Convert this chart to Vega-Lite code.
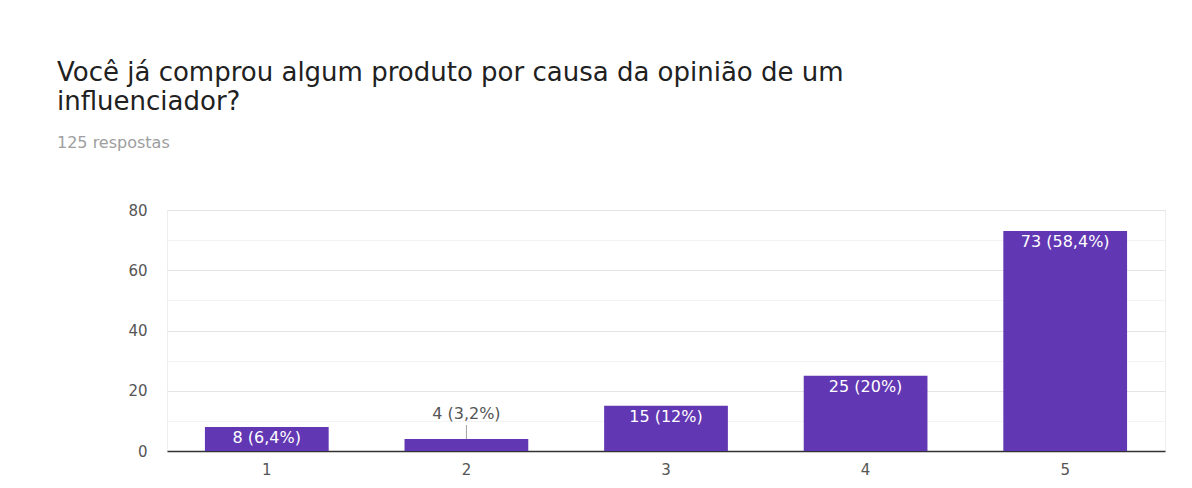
{
  "$schema": "https://vega.github.io/schema/vega-lite/v6.json",
  "width": 998,
  "height": 241,
  "autosize": {"type": "none"},
  "padding": {"left": 167, "top": 210, "right": 27, "bottom": 37},
  "background": "#ffffff",
  "title": {
    "text": ["Você já comprou algum produto por causa da opinião de um", "influenciador?"],
    "subtitle": "125 respostas",
    "anchor": "start",
    "frame": "group",
    "dx": -110,
    "offset": 52,
    "font": "DejaVu Sans",
    "fontSize": 26,
    "fontWeight": "normal",
    "color": "#212121",
    "lineHeight": 29,
    "subtitleFont": "DejaVu Sans",
    "subtitleFontSize": 16,
    "subtitleColor": "#9e9e9e",
    "subtitlePadding": 20
  },
  "data": {
    "values": [
      {"option": "1", "count": 8, "label": "8 (6,4%)"},
      {"option": "2", "count": 4, "label": "4 (3,2%)"},
      {"option": "3", "count": 15, "label": "15 (12%)"},
      {"option": "4", "count": 25, "label": "25 (20%)"},
      {"option": "5", "count": 73, "label": "73 (58,4%)"}
    ]
  },
  "encoding": {
    "x": {
      "field": "option",
      "type": "nominal",
      "scale": {"paddingInner": 0.38, "paddingOuter": 0.19},
      "axis": {
        "title": null,
        "labelAngle": 0,
        "labelFont": "DejaVu Sans",
        "labelFontSize": 15,
        "labelColor": "#555555",
        "labelPadding": 11,
        "ticks": false,
        "domainColor": "#333333",
        "domainWidth": 1.5,
        "grid": false
      }
    },
    "y": {
      "field": "count",
      "type": "quantitative",
      "scale": {"domain": [0, 80]},
      "axis": {
        "title": null,
        "values": [0, 10, 20, 30, 40, 50, 60, 70, 80],
        "labelExpr": "datum.value % 20 == 0 ? datum.label : ''",
        "labelFont": "DejaVu Sans",
        "labelFontSize": 15,
        "labelColor": "#555555",
        "labelPadding": 20,
        "ticks": false,
        "domain": false,
        "gridColor": {"condition": {"test": "datum.value % 20 == 0", "value": "#e4e4e4"}, "value": "#f3f3f3"}
      }
    }
  },
  "layer": [
    {"mark": {"type": "bar", "color": "#6237b3"}},
    {
      "transform": [{"filter": "datum.count >= 8"}],
      "mark": {"type": "text", "baseline": "top", "dy": 3, "color": "#ffffff", "font": "DejaVu Sans", "fontSize": 16},
      "encoding": {"text": {"field": "label"}}
    },
    {
      "transform": [{"filter": "datum.count < 8"}],
      "mark": {"type": "text", "baseline": "alphabetic", "dy": -20, "color": "#555555", "font": "DejaVu Sans", "fontSize": 16},
      "encoding": {"text": {"field": "label"}}
    },
    {
      "transform": [{"filter": "datum.count < 8"}],
      "mark": {"type": "tick", "orient": "vertical", "size": 14, "thickness": 1, "yOffset": -7, "color": "#777777"}
    }
  ],
  "config": {"view": {"stroke": "#eeeeee"}}
}
